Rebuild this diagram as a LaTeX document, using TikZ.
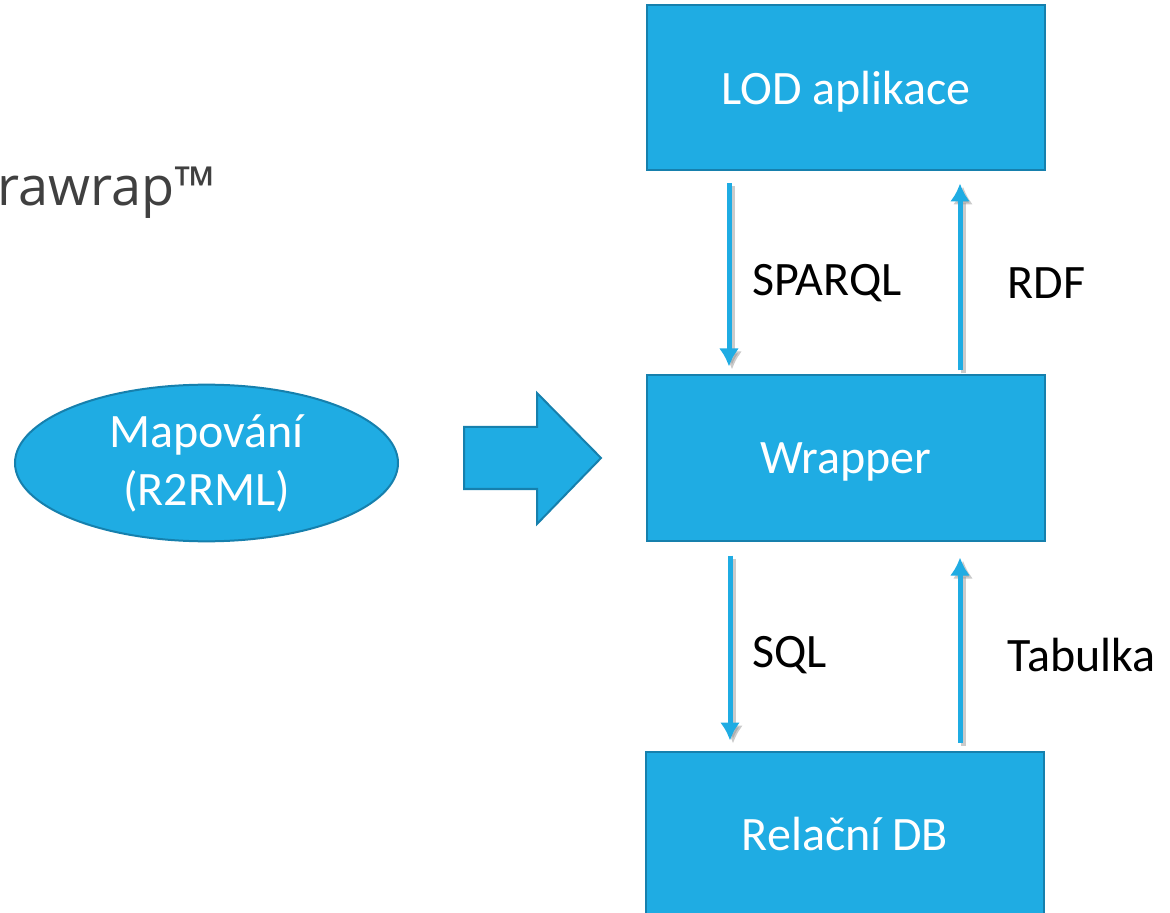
\documentclass[tikz,border=0pt]{standalone}
\usepackage{fontspec}
\setmainfont{Carlito}
\newfontfamily\headfont{Open Sans}
\usepackage{xcolor}
\usepackage{tikz}
\usetikzlibrary{shapes.geometric,arrows.meta}

\definecolor{boxblue}{HTML}{1FACE3}
\definecolor{boxedge}{HTML}{1680AD}
\definecolor{headgray}{HTML}{404040}

\tikzset{
  blok/.style={draw=boxedge, line width=1pt, fill=boxblue, text=white,
    minimum width=199pt, minimum height=82.5pt, inner sep=0pt, text depth=0pt,
    font=\fontsize{24}{28}\selectfont},
  tok/.style={draw=boxblue, line width=2.5pt, -{Latex[length=9pt,width=10pt]}},
  stin/.style={draw=black!45, line width=2.5pt, opacity=0.45, -{Latex[length=9pt,width=10pt]}},
  popis/.style={anchor=west, inner sep=0pt, font=\fontsize{24}{28}\selectfont}
}

\begin{document}
\begin{tikzpicture}[x=0.5pt,y=-0.5pt]

    \useasboundingbox (0,0) rectangle (1170,913);
    \clip (0,0) rectangle (1170,913);
          % page is exactly the slide crop

    \node[anchor=base west, inner sep=0pt, text=headgray,
          font=\headfont\fontsize{27}{32}\selectfont] (nadpis) at (-3,206) {rawrap™};

		\node[blok] (lod) at (846,88) {LOD aplikace};
		\node[blok] (wrap) at (846,458) {Wrapper};
		\node[blok] (db) at (845,834) {Relační DB};

		\node[ellipse, draw=boxedge, line width=1pt, fill=boxblue, text=white,
		      minimum width=191.5pt, minimum height=78pt, align=center,
		      font=\fontsize{24}{29}\selectfont] (mapa) at (206.5,463) {Mapování\\(R2RML)};

		% block arrow between mapping and wrapper
		\filldraw[draw=boxedge, line width=1pt, fill=boxblue]
		  (464,427) -- (537,427) -- (537,393) -- (601,458)
		  -- (537,524) -- (537,489) -- (464,489) -- cycle;

		% requests go down, answers go up (grey shadow first)
		\foreach \s/\k in {1.5pt/stin,0pt/tok}{
		  \begin{scope}[transform canvas={shift={(\s,-\s)}}]
		  \draw[\k] ([xshift=-58.5pt,yshift=-6pt]lod.south) -- ([xshift=-58.5pt,yshift=4pt]wrap.north);
		  \draw[\k] ([xshift=57pt,yshift=2pt]wrap.north) -- ([xshift=57pt,yshift=-6pt]lod.south);
		  \draw[\k] ([xshift=-58pt,yshift=-7pt]wrap.south) -- ([xshift=-57.5pt,yshift=5pt]db.north);
		  \draw[\k] ([xshift=57.5pt,yshift=4pt]db.north) -- ([xshift=57pt,yshift=-8pt]wrap.south);
		  \end{scope}
		}

		\node[popis] (sparql) at (752,283) {SPARQL};
		\node[popis] (rdf) at (1007,283) {RDF};
		\node[popis] (sql) at (752,655) {SQL};
		\node[popis] (tab) at (1007,655) {Tabulka};

\end{tikzpicture}
\end{document}
